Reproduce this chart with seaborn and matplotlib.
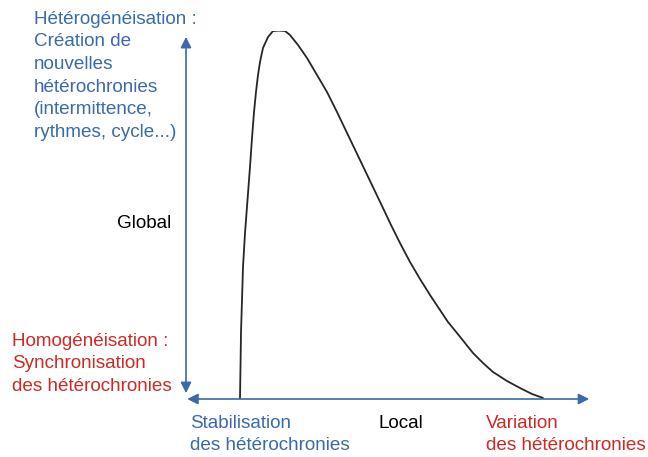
import numpy as np
import matplotlib
matplotlib.use("Agg")
import matplotlib.pyplot as plt
import seaborn as sns

# curve (x: local variation, y: global heterogeneity, 0-100)
curve_x = [13.43, 13.56, 13.68, 13.93, 14.18, 14.68, 15.30, 15.92, 16.42, 16.92,
           17.41, 17.91, 18.41, 19.15, 20.40, 21.64, 23.13, 24.63, 25.87, 27.86,
           30.10, 32.59, 35.07, 37.56, 40.30, 43.28, 46.02, 48.76, 51.00, 53.23,
           55.72, 58.21, 60.70, 63.18, 65.17, 67.41, 69.40, 71.39, 73.88, 76.37,
           79.85, 83.08, 86.07, 88.81]
curve_y = [0.0, 8.97, 17.93, 26.90, 35.87, 45.11, 54.08, 63.04, 70.92, 77.99,
           83.42, 88.04, 91.58, 95.38, 98.37, 100.0, 100.1, 100.0, 98.91, 96.20,
           92.66, 88.04, 83.42, 77.99, 71.74, 64.95, 58.70, 52.45, 47.28, 42.39,
           37.23, 32.61, 28.26, 24.18, 20.92, 17.93, 15.22, 12.50, 9.78, 7.34,
           4.89, 2.99, 1.36, 0.27]

top_label = "Hétérogénéisation :\nCréation de\nnouvelles\nhétérochronies\n(intermittence,\nrythmes, cycle...)"
bottom_label = "Homogénéisation :\nSynchronisation\ndes hétérochronies"
y_label = "Global"
x_label = "Local"
left_label = "Stabilisation\ndes hétérochronies"
right_label = "Variation\ndes hétérochronies"

blue = "#3a6aad"
red = "#cc2a24"

sns.set_style("white")
plt.rcParams['font.family'] = ['Liberation Sans', 'DejaVu Sans']

W, H = 648, 457
fig = plt.figure(figsize=(W / 100, H / 100), dpi=100)
ax = fig.add_axes([186 / W, (H - 399) / H, 402 / W, 368 / H])
ax.set_xlim(0, 100)
ax.set_ylim(0, 100)
ax.axis('off')

sns.lineplot(x=curve_x, y=curve_y, sort=False, color="#262626", linewidth=1.3,
             solid_joinstyle='round', ax=ax)

arrow = dict(arrowstyle='<|-|>', color=blue, lw=1.2, mutation_scale=16,
             shrinkA=0, shrinkB=0)
ax.annotate('', xy=(0, 98.4), xytext=(0, 1.6), xycoords='data', arrowprops=arrow,
            annotation_clip=False)
ax.annotate('', xy=(100.3, 0), xytext=(0.3, 0), xycoords='data', arrowprops=arrow,
            annotation_clip=False)

def put(x, y, s, color):
    fig.text(x / W, 1 - y / H, s, color=color, fontsize=13.6, va='top',
             linespacing=1.44)

put(34, 10.5, top_label, blue)
put(117, 215.5, y_label, "black")
put(12, 332.5, bottom_label, red)
put(190, 414.5, left_label, blue)
put(378, 414.5, x_label, "black")
put(486, 414.5, right_label, red)

fig.savefig("out.png", dpi=100)
